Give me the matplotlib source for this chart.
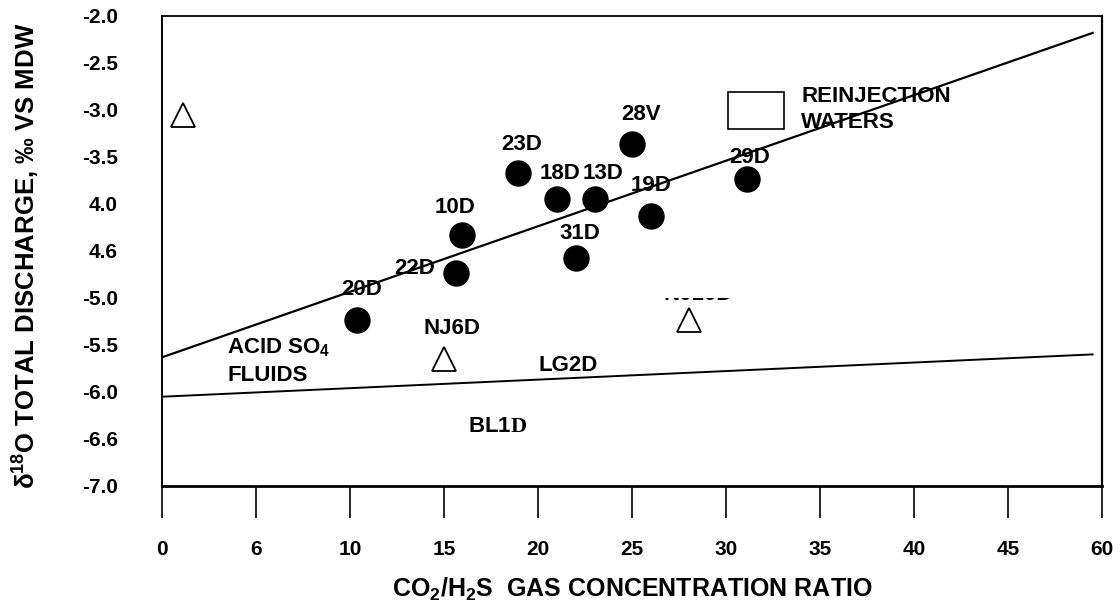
import matplotlib
matplotlib.use('Agg')
import matplotlib.pyplot as plt
from matplotlib.patches import Rectangle
from matplotlib.transforms import Bbox, TransformedBbox

plt.rcParams['font.family'] = ['Liberation Sans', 'DejaVu Sans']
plt.rcParams['font.weight'] = 'bold'
plt.rcParams['mathtext.fontset'] = 'custom'
plt.rcParams['mathtext.rm'] = 'Liberation Sans:bold'
plt.rcParams['mathtext.it'] = 'Liberation Sans:bold'
plt.rcParams['mathtext.bf'] = 'Liberation Sans:bold'
plt.rcParams['mathtext.sf'] = 'Liberation Serif'

# ---------------- data ----------------
well_names = ['20D', '22D', '10D', '23D', '18D', '13D', '31D', '28V', '19D', '29D']
well_ratio = [10.35, 15.65, 15.95, 18.9, 21.0, 23.0, 22.0, 25.0, 26.0, 31.1]
well_d18o = [-5.23, -4.73, -4.33, -3.67, -3.95, -3.95, -4.57, -3.36, -4.13, -3.73]

acid_names = ['', 'NJ6D', 'N010D']
acid_ratio = [1.1, 15.0, 28.0]
acid_d18o = [-3.05, -5.65, -5.23]

reinj_ratio = [30.1, 33.1]
reinj_d18o = [-3.20, -2.81]

trend_upper_x = [0.0, 49.5]
trend_upper_y = [-5.63, -2.18]
trend_lower_x = [0.0, 49.5]
trend_lower_y = [-6.05, -5.60]

x_ticks = [0, 5, 10, 15, 20, 25, 30, 35, 40, 45, 50]
x_tick_labels = ['0', '6', '10', '15', '20', '25', '30', '35', '40', '45', '60']
y_ticks = [-2.0, -2.5, -3.0, -3.5, -4.0, -4.5, -5.0, -5.5, -6.0, -6.5, -7.0]
y_tick_labels = ['-2.0', '-2.5', '-3.0', '-3.5', '4.0', '4.6', '-5.0', '-5.5', '-6.0', '-6.6', '-7.0']
y_marked_ticks = [-2.0, -5.5, -6.5, -7.0]

# label offsets (pixels) relative to each point
well_label_offsets = {'20D': (5, 30), '22D': (-42, 4), '10D': (-7, 28), '23D': (4, 28),
                      '18D': (3, 26), '13D': (8, 26), '31D': (4, 24), '28V': (9, 29),
                      '19D': (0, 31), '29D': (3, 21)}
acid_label_offsets = {'NJ6D': (8, 31), 'N010D': (10, 25)}

# ---------------- figure ----------------
fig = plt.figure(figsize=(11.2, 6.15), dpi=100)
ax = fig.add_axes([162.3 / 1120, 1 - 486 / 615, (1102 - 162.3) / 1120, (486 - 16) / 615])

ax.set_xlim(0, 50)
ax.set_ylim(-7.0, -2.0)

# trend lines
ax.plot(trend_upper_x, trend_upper_y, color='black', lw=1.6, zorder=2)
ax.plot(trend_lower_x, trend_lower_y, color='black', lw=1.4, zorder=2)

# wells
ax.plot(well_ratio, well_d18o, 'o', ms=18, color='black', zorder=3)
for n, x, y in zip(well_names, well_ratio, well_d18o):
    dx, dy = well_label_offsets[n]
    ax.annotate(n, (x, y), xytext=(dx, dy), textcoords='offset pixels',
                ha='center', va='center', fontsize=16, fontweight='bold', zorder=4)

# acid fluids (open triangles)
ax.plot(acid_ratio, acid_d18o, '^', ms=17, mfc='white', mec='black', mew=1.3, zorder=3)
for n, x, y in zip(acid_names, acid_ratio, acid_d18o):
    if not n:
        continue
    dx, dy = acid_label_offsets[n]
    t = ax.annotate(n, (x, y), xytext=(dx, dy), textcoords='offset pixels',
                    ha='center', va='center', fontsize=16, fontweight='bold', zorder=4)
    if n == 'N010D':
        clip = TransformedBbox(Bbox([[x - 5, y - 0.5], [x + 5, y + 0.235]]), ax.transData)
        t.set_clip_box(clip)
        t.set_clip_on(True)

# reinjection waters box
ax.add_patch(Rectangle((reinj_ratio[0], reinj_d18o[0]), reinj_ratio[1] - reinj_ratio[0],
                       reinj_d18o[1] - reinj_d18o[0], fill=False, ec='black', lw=1.2, zorder=3))
ax.text(34.0, -2.86, 'REINJECTION', ha='left', va='center', fontsize=16, fontweight='bold')
ax.text(34.0, -3.13, 'WATERS', ha='left', va='center', fontsize=16, fontweight='bold')

# region labels
ax.text(3.45, -5.53, 'ACID SO$_4$', ha='left', va='center', fontsize=16, fontweight='bold')
ax.text(3.45, -5.82, 'FLUIDS', ha='left', va='center', fontsize=16, fontweight='bold')
ax.text(21.6, -5.72, 'LG2D', ha='center', va='center', fontsize=16, fontweight='bold')
ax.text(17.86, -6.37, 'BL1$\\mathsf{D}$', ha='center', va='center', fontsize=16, fontweight='bold')

# ---------------- axes styling ----------------
for s in ['top', 'bottom', 'left', 'right']:
    ax.spines[s].set_color('black')
ax.spines['left'].set_linewidth(1.4)
ax.spines['right'].set_linewidth(1.6)
ax.spines['top'].set_linewidth(1.3)
ax.spines['bottom'].set_linewidth(2.0)

ax.set_xticks(x_ticks)
ax.set_xticklabels(x_tick_labels, fontsize=15, fontweight='bold')
ax.tick_params(axis='x', direction='out', length=23, width=1.2, pad=16)

ax.set_yticks(y_ticks)
ax.set_yticklabels(y_tick_labels, fontsize=15, fontweight='bold')
ax.tick_params(axis='y', which='major', length=0, pad=32)
ax.set_yticks(y_marked_ticks, minor=True)
ax.tick_params(axis='y', which='minor', direction='out', length=23, width=1.2)
for tk, v in zip(ax.yaxis.get_minor_ticks(), y_marked_ticks):
    if v == -6.5:
        tk.tick1line.set_markeredgewidth(2.8)

ax.set_xlabel('CO$_2$/H$_2$S  GAS CONCENTRATION RATIO', fontsize=18, fontweight='bold', labelpad=12)
ax.set_ylabel('\u03b4$^{18}$O TOTAL DISCHARGE, \u2030 VS MDW', fontsize=18.5, fontweight='bold')
ax.yaxis.set_label_coords(-0.128, 0.49)

fig.savefig('out.png', dpi=100, facecolor='white')
